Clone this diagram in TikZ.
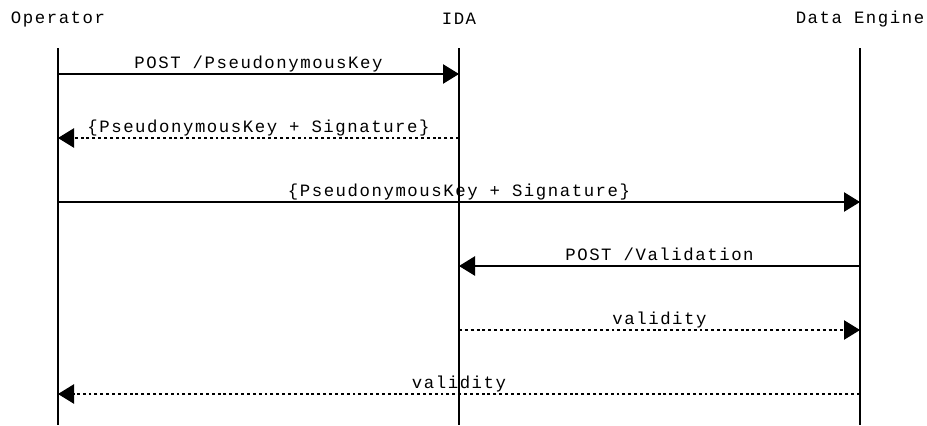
\documentclass[tikz,border=0pt]{standalone}
\usepackage{fontspec}
\setmonofont{Liberation Mono}[LetterSpace=9]
\usetikzlibrary{arrows.meta}
\tikzset{
    actor/.style={font=\ttfamily\fontsize{13}{15}\selectfont, inner sep=0pt},
    life/.style={line width=1pt},
    msg/.style={line width=1pt, -{Triangle[length=12pt, width=14.5pt]}},
    reply/.style={msg, dash pattern=on 2.2pt off 2.2pt},
    lbl/.style={font=\ttfamily\fontsize{13}{15}\selectfont, anchor=base, inner sep=0pt, yshift=4.5pt}
}
\begin{document}
\begin{tikzpicture}[x=0.75pt, y=-0.75pt]
    \useasboundingbox (0,0) rectangle (927,425);

    % Actors
    \node[actor] (op) at (58,19) {Operator};
    \node[actor] (ida) at (459,19) {IDA};
    \node[actor] (de) at (860,19) {Data Engine};

    % Lifelines
    \coordinate (op0) at (58,48);  \coordinate (op1) at (58,425);
    \coordinate (ida0) at (459,48); \coordinate (ida1) at (459,425);
    \coordinate (de0) at (860,48);  \coordinate (de1) at (860,425);
    \draw[life] (op0) -- (op1);
    \draw[life] (ida0) -- (ida1);
    \draw[life] (de0) -- (de1);

    % Message points on the lifelines
    \foreach \i/\y in {1/74, 2/138, 3/202, 4/266, 5/330, 6/394} {
        \coordinate (op-\i) at (58,\y);
        \coordinate (ida-\i) at (459,\y);
        \coordinate (de-\i) at (860,\y);
    }

    % Messages
    \draw[msg] (op-1) -- node[lbl] {POST /PseudonymousKey} (ida-1);
    \draw[reply] (ida-2) -- node[lbl] {\{PseudonymousKey + Signature\}} (op-2);
    \draw[msg] (op-3) -- node[lbl] {\{PseudonymousKey + Signature\}} (de-3);
    \draw[msg] (de-4) -- node[lbl] {POST /Validation} (ida-4);
    \draw[reply] (ida-5) -- node[lbl] {validity} (de-5);
    \draw[reply] (de-6) -- node[lbl] {validity} (op-6);
\end{tikzpicture}
\end{document}
